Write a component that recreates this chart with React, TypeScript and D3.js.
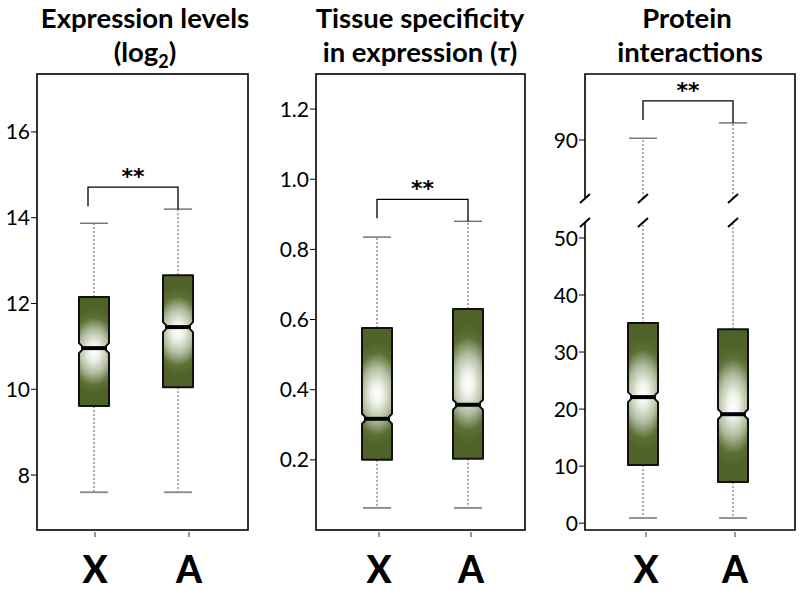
import React from "react";
import * as d3 from "d3";

// ---------- data ----------
const categories = ["X", "A"];

// Panel 1: expression levels (log2)
const exprLow = [7.6, 7.6];
const exprQ1 = [9.61, 10.05];
const exprMedian = [10.96, 11.45];
const exprQ3 = [12.15, 12.66];
const exprHigh = [13.87, 14.2];
const exprTicks = [8, 10, 12, 14, 16];

// Panel 2: tissue specificity (tau)
const tauLow = [0.063, 0.063];
const tauQ1 = [0.2, 0.203];
const tauMedian = [0.317, 0.357];
const tauQ3 = [0.576, 0.63];
const tauHigh = [0.835, 0.88];
const tauTicks = [0.2, 0.4, 0.6, 0.8, 1.0, 1.2];

// Panel 3: protein interactions (broken axis)
const ppiLow = [0.9, 0.9];
const ppiQ1 = [10.2, 7.2];
const ppiMedian = [22.1, 19.1];
const ppiQ3 = [35.1, 34.0];
const ppiHigh = [90.3, 93.0];
const ppiTicksLower = [0, 10, 20, 30, 40, 50];
const ppiTicksUpper = [90];

const significance = ["**", "**", "**"];

// ---------- style ----------
const W = 800;
const H = 590;
const GREEN = "#4f6229";
const FONT = "Lato, 'Open Sans', sans-serif";
const TOP = 74;
const BOTTOM = 530;
const BOX_W = 30;
const CAP_W = 28;
const INSET = 3;

type BoxProps = {
  cx: number;
  q1: number;
  med: number;
  q3: number;
  low: number;
  high: number;
  highBreak?: [number, number];
};

function NotchBox({ cx, q1, med, q3, low, high, highBreak }: BoxProps) {
  const x0 = cx - BOX_W / 2;
  const x1 = cx + BOX_W / 2;
  const p = d3.path();
  p.moveTo(x0, q3);
  p.lineTo(x1, q3);
  p.lineTo(x1, med - 5);
  p.lineTo(x1 - INSET, med - 2);
  p.lineTo(x1 - INSET, med + 2);
  p.lineTo(x1, med + 5);
  p.lineTo(x1, q1);
  p.lineTo(x0, q1);
  p.lineTo(x0, med + 5);
  p.lineTo(x0 + INSET, med + 2);
  p.lineTo(x0 + INSET, med - 2);
  p.lineTo(x0, med - 5);
  p.closePath();
  const dash = { stroke: "#555", strokeWidth: 1, strokeDasharray: "2,2" };
  return (
    <g>
      {highBreak ? (
        <>
          <line x1={cx} x2={cx} y1={q3} y2={highBreak[1]} {...dash} />
          <line x1={cx} x2={cx} y1={highBreak[0]} y2={high} {...dash} />
          <line x1={cx - 5} x2={cx + 5} y1={highBreak[0] + 5} y2={highBreak[0] - 4} stroke="#000" strokeWidth={2} />
          <line x1={cx - 5} x2={cx + 5} y1={highBreak[1] + 5} y2={highBreak[1] - 4} stroke="#000" strokeWidth={2} />
        </>
      ) : (
        <line x1={cx} x2={cx} y1={q3} y2={high} {...dash} />
      )}
      <line x1={cx} x2={cx} y1={q1} y2={low} {...dash} />
      <line x1={cx - CAP_W / 2} x2={cx + CAP_W / 2} y1={high} y2={high} stroke="#777" strokeWidth={1.5} />
      <line x1={cx - CAP_W / 2} x2={cx + CAP_W / 2} y1={low} y2={low} stroke="#888" strokeWidth={1.8} />
      <path d={p.toString()} fill="url(#boxGrad)" stroke="#111" strokeWidth={2} strokeLinejoin="round" />
      <rect x={x0 + INSET} y={med - 2} width={BOX_W - 2 * INSET} height={4} fill="#000" />
    </g>
  );
}

function Bracket({ xl, xr, yLeftCap, yRightCap, label }: { xl: number; xr: number; yLeftCap: number; yRightCap: number; label: string }) {
  const yTop = Math.min(yLeftCap, yRightCap) - 22;
  return (
    <g>
      <path d={`M${xl},${yTop + 19} L${xl},${yTop} L${xr},${yTop} L${xr},${yRightCap}`} fill="none" stroke="#000" strokeWidth={1.3} />
      <text x={(xl + xr) / 2} y={yTop - 3} textAnchor="middle" fontFamily="'DejaVu Sans', sans-serif" fontWeight="bold" fontSize={22} letterSpacing={0}>
        {label}
      </text>
    </g>
  );
}

function YTicks({ ticks, scale, x, fmt }: { ticks: number[]; scale: d3.ScaleLinear<number, number>; x: number; fmt: (v: number) => string }) {
  return (
    <g>
      {ticks.map((t) => (
        <g key={t}>
          <line x1={x - 6} x2={x} y1={scale(t)} y2={scale(t)} stroke="#000" strokeWidth={1} />
          <text x={x - 7} y={scale(t)} dy="0.36em" textAnchor="end" fontFamily={FONT} fontSize={21}>
            {fmt(t)}
          </text>
        </g>
      ))}
    </g>
  );
}

function XLabels({ scale }: { scale: d3.ScalePoint<string> }) {
  return (
    <g>
      {categories.map((c) => (
        <g key={c}>
          <line x1={scale(c)} x2={scale(c)} y1={BOTTOM + 2} y2={BOTTOM + 7} stroke="#333" strokeWidth={1} />
          <text x={scale(c)} y={583} textAnchor="middle" fontFamily={FONT} fontWeight="900" fontSize={37}>
            {c}
          </text>
        </g>
      ))}
    </g>
  );
}

export default function App() {
  // Panel 1
  const y1 = d3.scaleLinear().domain([6.72, 17.35]).range([BOTTOM, TOP]);
  const xb1 = d3.scalePoint<string>().domain(categories).range([94, 178]);
  const xl1 = d3.scalePoint<string>().domain(categories).range([95, 189]);
  // Panel 2
  const y2 = d3.scaleLinear().domain([0, 1.3]).range([BOTTOM, TOP]);
  const xb2 = d3.scalePoint<string>().domain(categories).range([377, 468]);
  const xl2 = d3.scalePoint<string>().domain(categories).range([379, 471]);
  // Panel 3 (broken)
  const BREAK_HI = 198;
  const BREAK_LO = 222;
  const y3lo = d3.scaleLinear().domain([-1.2, 52.8]).range([BOTTOM, BREAK_LO]);
  const y3hi = d3.scaleLinear().domain([79.8, 101.6]).range([BREAK_HI, TOP]);
  const xb3 = d3.scalePoint<string>().domain(categories).range([643, 733]);
  const xl3 = d3.scalePoint<string>().domain(categories).range([646, 735]);

  const P1 = { l: 37, r: 248 };
  const P2 = { l: 316, r: 525 };
  const P3 = { l: 585, r: 795 };

  const fmtInt = d3.format("d");
  const fmt1 = d3.format(".1f");

  const titleProps = { fontFamily: FONT, fontWeight: "bold" as const, fontSize: 27.5, textAnchor: "middle" as const };

  return (
    <svg width={W} height={H} style={{ position: "absolute", left: 0, top: 0, background: "#fff" }}>
      <defs>
        <radialGradient id="boxGrad" cx="0.5" cy="0.5" r="0.5" gradientTransform="translate(0.5 0.5) scale(2.0 0.8) translate(-0.5 -0.5)">
          <stop offset="0" stopColor="#ffffff" />
          <stop offset="0.2" stopColor="#eef1e7" />
          <stop offset="0.5" stopColor="#b1bca0" />
          <stop offset="0.78" stopColor="#5c7034" />
          <stop offset="1" stopColor={GREEN} />
        </radialGradient>
      </defs>
      <rect width={W} height={H} fill="#fff" />

      {/* Titles */}
      <text x={145} y={28} {...titleProps}>Expression levels</text>
      <text x={145} y={62} {...titleProps}>
        (log<tspan fontSize={18} dy={6}>2</tspan><tspan dy={-6}>)</tspan>
      </text>
      <text x={420} y={28} {...titleProps}>Tissue specificity</text>
      <text x={420} y={62} {...titleProps}>
        in expression (<tspan fontStyle="italic">τ</tspan>)
      </text>
      <text x={687} y={28} {...titleProps}>Protein</text>
      <text x={690} y={62} {...titleProps}>interactions</text>

      {/* Panel 1 */}
      <rect x={P1.l} y={TOP} width={P1.r - P1.l} height={BOTTOM - TOP} fill="none" stroke="#000" strokeWidth={1.6} />
      <YTicks ticks={exprTicks} scale={y1} x={P1.l} fmt={fmtInt} />
      {categories.map((c, i) => (
        <NotchBox key={c} cx={xb1(c)!} q1={y1(exprQ1[i])} med={y1(exprMedian[i])} q3={y1(exprQ3[i])} low={y1(exprLow[i])} high={y1(exprHigh[i])} />
      ))}
      <Bracket xl={xb1("X")! - 6} xr={xb1("A")!} yLeftCap={y1(exprHigh[0])} yRightCap={y1(exprHigh[1])} label={significance[0]} />
      <XLabels scale={xl1} />

      {/* Panel 2 */}
      <rect x={P2.l} y={TOP} width={P2.r - P2.l} height={BOTTOM - TOP} fill="none" stroke="#000" strokeWidth={1.6} />
      <YTicks ticks={tauTicks} scale={y2} x={P2.l} fmt={fmt1} />
      {categories.map((c, i) => (
        <NotchBox key={c} cx={xb2(c)!} q1={y2(tauQ1[i])} med={y2(tauMedian[i])} q3={y2(tauQ3[i])} low={y2(tauLow[i])} high={y2(tauHigh[i])} />
      ))}
      <Bracket xl={xb2("X")!} xr={xb2("A")!} yLeftCap={y2(tauHigh[0])} yRightCap={y2(tauHigh[1])} label={significance[1]} />
      <XLabels scale={xl2} />

      {/* Panel 3 */}
      <path
        d={`M${P3.l},${BREAK_HI} L${P3.l},${TOP} L${P3.r},${TOP} L${P3.r},${BOTTOM} L${P3.l},${BOTTOM} L${P3.l},${BREAK_LO}`}
        fill="none"
        stroke="#000"
        strokeWidth={1.6}
      />
      <line x1={P3.l - 5} x2={P3.l + 5} y1={BREAK_HI + 5} y2={BREAK_HI - 4} stroke="#000" strokeWidth={2} />
      <line x1={P3.l - 5} x2={P3.l + 5} y1={BREAK_LO + 5} y2={BREAK_LO - 4} stroke="#000" strokeWidth={2} />
      <YTicks ticks={ppiTicksLower} scale={y3lo} x={P3.l} fmt={fmtInt} />
      <YTicks ticks={ppiTicksUpper} scale={y3hi} x={P3.l} fmt={fmtInt} />
      {categories.map((c, i) => (
        <NotchBox
          key={c}
          cx={xb3(c)!}
          q1={y3lo(ppiQ1[i])}
          med={y3lo(ppiMedian[i])}
          q3={y3lo(ppiQ3[i])}
          low={y3lo(ppiLow[i])}
          high={y3hi(ppiHigh[i])}
          highBreak={[BREAK_HI, BREAK_LO]}
        />
      ))}
      <Bracket xl={xb3("X")!} xr={xb3("A")!} yLeftCap={y3hi(ppiHigh[0])} yRightCap={y3hi(ppiHigh[1])} label={significance[2]} />
      <XLabels scale={xl3} />
    </svg>
  );
}
